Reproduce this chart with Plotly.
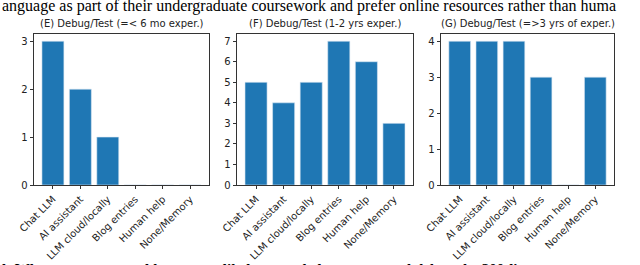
import plotly.graph_objects as go

categories = ["Chat LLM", "AI assistant", "LLM cloud/locally", "Blog entries", "Human help", "None/Memory"]
values_e = [3, 2, 1, 0, 0, 0]
values_f = [5, 4, 5, 7, 6, 3]
values_g = [4, 4, 4, 3, 0, 3]
titles = ["(E) Debug/Test (=< 6 mo exper.)", "(F) Debug/Test (1-2 yrs exper.)", "(G) Debug/Test (=>3 yrs of exper.)"]
yticks_e = [0, 1, 2, 3]
yticks_f = [0, 1, 2, 3, 4, 5, 6, 7]
yticks_g = [0, 1, 2, 3, 4]
top_text = "anguage as part of their undergraduate coursework and prefer online resources rather than huma"
bottom_text = "l: What resources would you most likely use to help you test and debug the 300-line program, you mus"

W, H = 640, 265
panels = [
    (values_e, yticks_e, (34, 209)),
    (values_f, yticks_f, (237, 413)),
    (values_g, yticks_g, (441, 614)),
]
y_bot, y_top = 185, 34
ydom = [(H - y_bot) / H, (H - y_top) / H]

fig = go.Figure()
layout = dict(
    width=W, height=H, margin=dict(l=0, r=0, t=0, b=0),
    paper_bgcolor="white", plot_bgcolor="white",
    showlegend=False, bargap=0.2,
    font=dict(family="DejaVu Sans", size=10, color="#222"),
    annotations=[],
)
for i, (vals, yt, (x0, x1)) in enumerate(panels):
    n = "" if i == 0 else str(i + 1)
    fig.add_trace(go.Bar(
        x=categories, y=vals, xaxis="x" + n, yaxis="y" + n,
        marker=dict(color="#1f77b4", line=dict(color="#d8e6f2", width=0.6)),
        width=0.8,
    ))
    ymax = max(vals) * 1.05
    common = dict(showline=True, linecolor="#333", linewidth=0.9, mirror=True,
                  ticks="outside", ticklen=3.5, tickcolor="#333", tickwidth=0.8,
                  showgrid=False, zeroline=False, automargin=False,
                  tickfont=dict(size=10, color="#222"))
    layout["xaxis" + n] = dict(domain=[x0 / W, x1 / W], anchor="y" + n,
                                type="category", range=[-0.69, 5.69],
                                tickangle=-45, **common)
    layout["yaxis" + n] = dict(domain=ydom, anchor="x" + n, range=[0, ymax],
                                tickvals=yt, **common)
    layout["annotations"].append(dict(
        text=titles[i], xref="paper", yref="paper",
        x=(x0 + x1) / 2 / W, y=(H - 24) / H, xanchor="center", yanchor="middle",
        showarrow=False, font=dict(family="DejaVu Sans", size=10, color="#222")))

layout["annotations"].append(dict(
    text=top_text, xref="paper", yref="paper", x=0, y=(H - 6) / H,
    xanchor="left", yanchor="middle", showarrow=False,
    font=dict(family="Liberation Serif", size=16, color="black")))
layout["annotations"].append(dict(
    text="<b>" + bottom_text + "</b>", xref="paper", yref="paper", x=0, y=(H - 259) / H,
    xanchor="left", yanchor="top", showarrow=False,
    font=dict(family="Liberation Serif", size=15, color="black")))

fig.update_layout(**layout)
fig.write_html("out.html", config={"displayModeBar": False},
               post_script="document.body.style.margin='0';document.body.style.overflow='hidden';")
